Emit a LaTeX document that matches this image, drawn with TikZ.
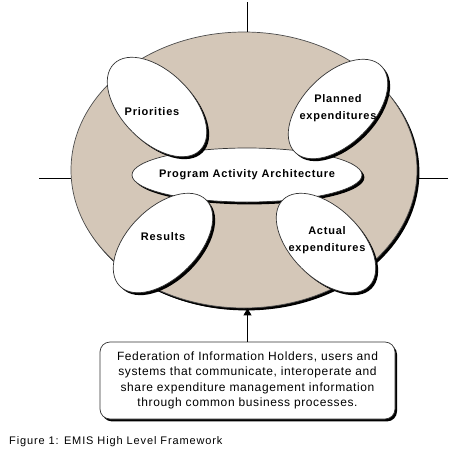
\documentclass[tikz,border=0pt]{standalone}
\usepackage{fontspec}
\setmainfont{Liberation Sans}
\newfontfamily\lblfont[LetterSpace=7]{Liberation Sans}
\newfontfamily\boxfont[LetterSpace=5]{Liberation Sans}
\newfontfamily\capfont[LetterSpace=8]{Liberation Sans}
\usetikzlibrary{shapes.geometric,shadows,arrows.meta}
\definecolor{frametan}{RGB}{212,199,184}
\begin{document}
\begin{tikzpicture}[x=1pt,y=-1pt,
  lbl/.style={font=\lblfont\bfseries\fontsize{11}{16.5}\selectfont, align=center, inner sep=0pt},
  oval/.style={ellipse, draw=black!80, line width=0.7pt, fill=white, inner sep=0pt,
    drop shadow={shadow xshift=2.4pt, shadow yshift=-2.4pt, fill=black, opacity=1}},
  thinline/.style={draw=black, line width=0.8pt}
]
\useasboundingbox (0,0) rectangle (450,467);

\node[oval, fill=frametan, draw=black!70, minimum width=346pt, minimum height=276pt,
  drop shadow={shadow xshift=1.2pt, shadow yshift=-2pt, fill=black, opacity=1}] (frame) at (244,170) {};

\coordinate (lt) at (39,178);
\coordinate (rt) at (448,178);
\coordinate (tp) at (247,2);
\draw[thinline] (lt) -- (lt -| frame.west);
\draw[thinline] (rt) -- (rt -| frame.east);
\draw[thinline] (tp) -- (tp |- frame.north);

\node[oval, minimum width=230pt, minimum height=54pt] (paa) at (247,175) {};
\node[oval, minimum width=122pt, minimum height=70pt, rotate=-45] (pri) at (157,107) {};
\node[oval, minimum width=122pt, minimum height=70pt, rotate=45] (pla) at (338,109) {};
\node[oval, minimum width=122pt, minimum height=70pt, rotate=45] (res) at (163,243) {};
\node[oval, minimum width=122pt, minimum height=70pt, rotate=-45] (act) at (326,243) {};

\node[lbl] (tpaa) at (247,175) {Program Activity Architecture};
\node[lbl] (tpri) at (152,112) {Priorities};
\node[lbl] (tpla) at (338,108) {Planned\\expenditures};
\node[lbl] (tres) at (163,237) {Results};
\node[lbl] (tact) at (327,240) {Actual\\expenditures};

\node[draw=black!80, line width=0.7pt, rounded corners=10pt, fill=white,
  minimum width=295pt, minimum height=77pt, align=center,
  font=\boxfont\fontsize{12}{15.5}\selectfont,
  drop shadow={shadow xshift=2pt, shadow yshift=-2.4pt, fill=black, opacity=1}] (fed) at (247.5,380.5)
  {Federation of Information Holders, users and\\systems that communicate, interoperate and\\share expenditure management information\\through common business processes.};

\draw[thinline, -{Triangle[length=7pt,width=8pt]}] (fed.north) -- (fed.north |- frame.south);

\node[anchor=west, inner sep=0pt, font=\capfont\fontsize{11}{12}\selectfont] (cap) at (9,442) {Figure 1: EMIS High Level Framework};
\end{tikzpicture}
\end{document}
